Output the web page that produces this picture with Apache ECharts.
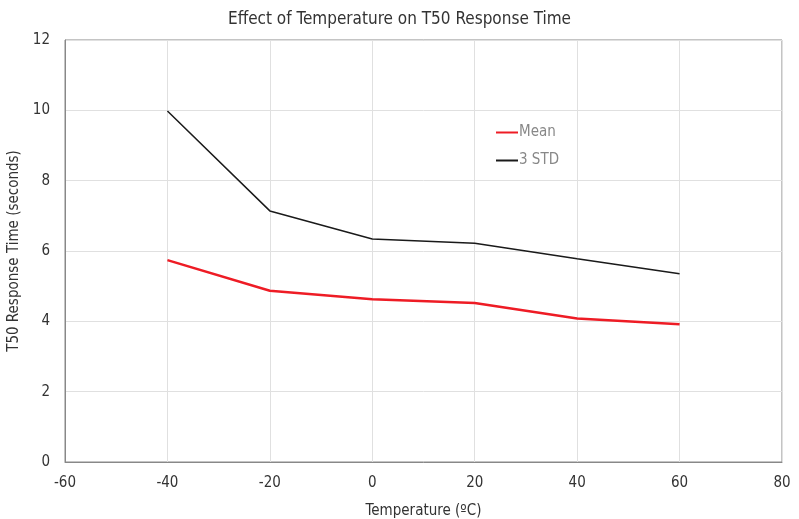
<!DOCTYPE html>
<html><head><meta charset="utf-8">
<script src="https://cdn.jsdelivr.net/npm/echarts@6/dist/echarts.min.js"></script>
<style>html,body{margin:0;padding:0;background:#fff}#c{width:799px;height:519px}</style>
</head><body><div id="c"></div>
<script>
const temperatures = [-40, -20, 0, 20, 40, 60];
const meanValues = [5.74, 4.87, 4.63, 4.52, 4.08, 3.92];
const std3Values = [9.98, 7.14, 6.34, 6.22, 5.78, 5.35];
const FONT = "'DejaVu Sans Condensed', 'Liberation Sans Narrow', 'Roboto', sans-serif";
const chart = echarts.init(document.getElementById('c'));
chart.setOption({
  animation: false,
  textStyle: { fontFamily: FONT },
  title: { text: 'Effect of Temperature on T50 Response Time', left: 'center', top: 6,
    textStyle: { fontSize: 17, fontWeight: 'normal', color: '#333', fontFamily: FONT } },
  grid: { left: 65, right: 17, top: 40, bottom: 57, show: true, borderColor: '#888', borderWidth: 1,
    containLabel: false, outerBoundsMode: 'none' },
  legend: { orient: 'vertical', left: 491, top: 120, itemGap: 13, itemWidth: 22, itemHeight: 2,
    icon: 'rect', textStyle: { color: '#888', fontSize: 15, fontFamily: FONT, padding: [0,0,0,-4] },
    data: ['Mean', '3 STD'] },
  xAxis: { type: 'value', min: -60, max: 80, interval: 20, name: 'Temperature (ºC)',
    nameLocation: 'middle', nameGap: 42, nameTextStyle: { fontSize: 15, color: '#333' },
    axisLine: { show: true, onZero: false, lineStyle: { color: '#888' } }, axisTick: { show: false },
    axisLabel: { color: '#333', fontSize: 15, margin: 14 },
    splitLine: { show: true, lineStyle: { color: '#e0e0e0' } } },
  yAxis: { type: 'value', min: 0, max: 12, interval: 2, name: 'T50 Response Time (seconds)',
    nameLocation: 'middle', nameGap: 36, nameTextStyle: { fontSize: 15, color: '#333' },
    axisLine: { show: true, onZero: false, lineStyle: { color: '#888' } }, axisTick: { show: false },
    axisLabel: { color: '#333', fontSize: 15, margin: 15 },
    splitLine: { show: true, lineStyle: { color: '#e0e0e0' } } },
  series: [
    { name: 'Mean', type: 'line', data: temperatures.map((t, i) => [t, meanValues[i]]),
      showSymbol: false, symbol: 'none', lineStyle: { color: '#ee1c25', width: 2.5 }, itemStyle: { color: '#ee1c25' } },
    { name: '3 STD', type: 'line', data: temperatures.map((t, i) => [t, std3Values[i]]),
      showSymbol: false, symbol: 'none', lineStyle: { color: '#1a1a1a', width: 1.5 }, itemStyle: { color: '#1a1a1a' } }
  ]
});
</script></body></html>
